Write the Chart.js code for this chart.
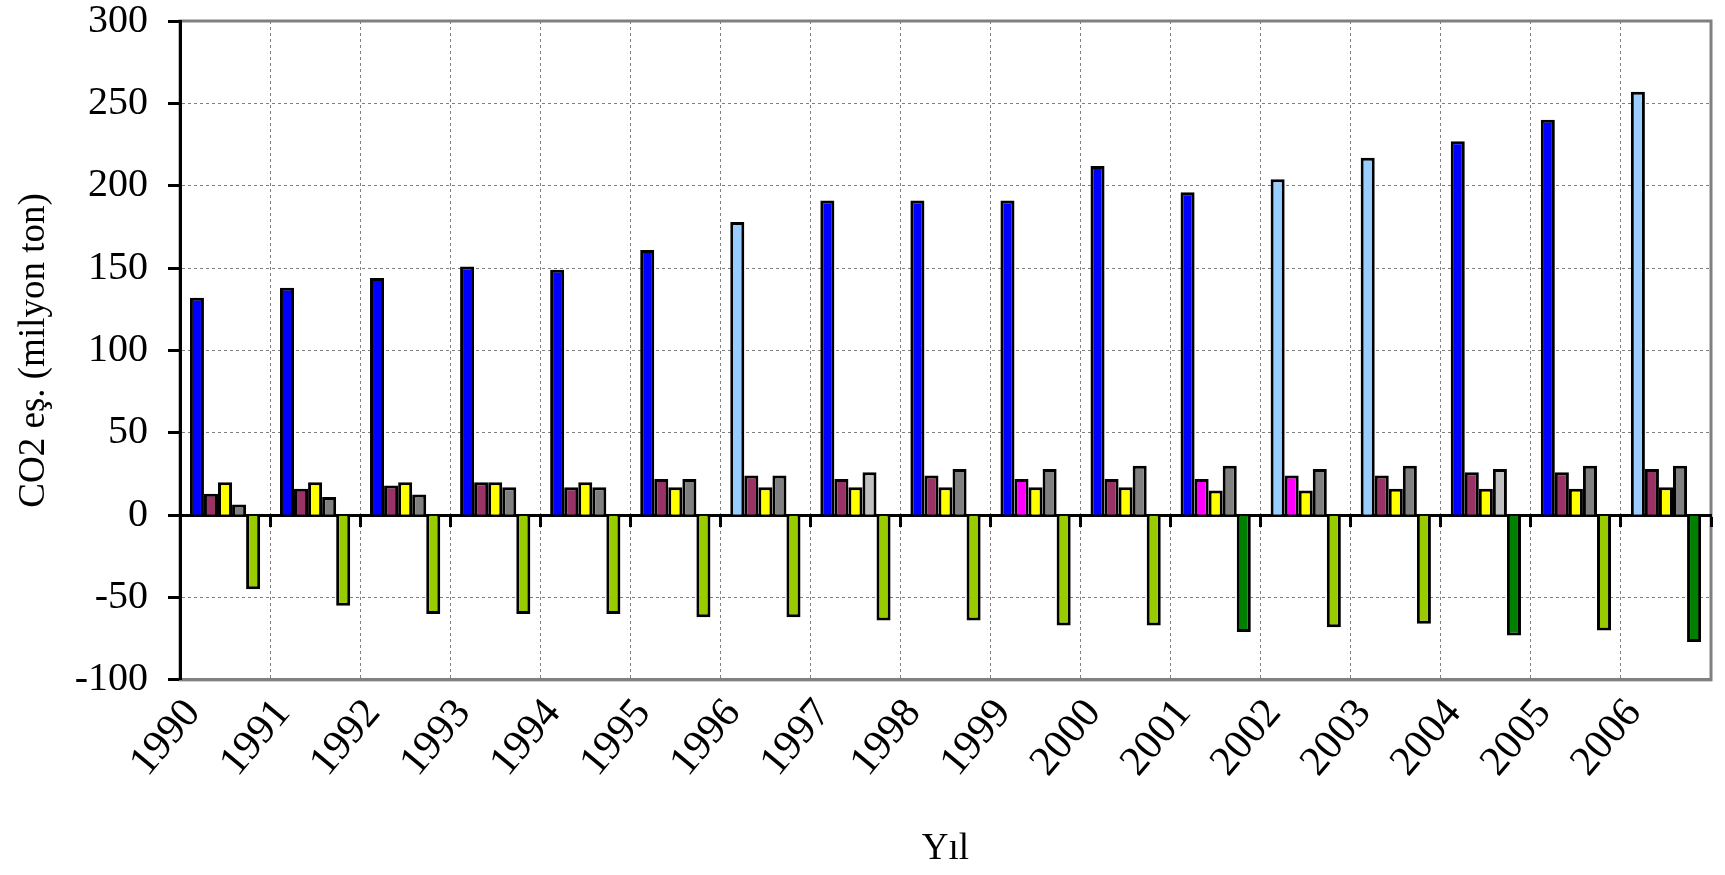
<!DOCTYPE html>
<html>
<head>
<meta charset="utf-8">
<script src="https://cdn.jsdelivr.net/npm/chart.js@4.4.1/dist/chart.umd.min.js"></script>
<style>
  html, body { margin: 0; padding: 0; background: #fff; }
  #wrap { width: 1725px; height: 875px; }
</style>
</head>
<body>
<div id="wrap"><canvas id="co2Chart"></canvas></div>
<script>
const years = ['1990', '1991', '1992', '1993', '1994', '1995', '1996', '1997', '1998',
  '1999', '2000', '2001', '2002', '2003', '2004', '2005', '2006'];

const energy = [132, 138, 144, 151, 149, 161, 178, 191, 191, 191, 212, 196, 204, 217, 227, 240, 257];
const industry = [13, 16, 18, 20, 17, 22, 24, 22, 24, 22, 22, 22, 24, 24, 26, 26, 28];
const agriculture = [20, 20, 20, 20, 20, 17, 17, 17, 17, 17, 17, 15, 15, 16, 16, 16, 17];
const waste = [6.5, 11, 12.5, 17, 17, 22, 24, 26, 28, 28, 30, 30, 28, 30, 28, 30, 30];
const lulucf = [-45, -55, -60, -60, -60, -62, -62, -64, -64, -67, -67, -71, -68, -66, -73, -70, -77];

const yTicks = [300, 250, 200, 150, 100, 50, 0, -50, -100];

// years where the original sheet had a different fill on a single bar
const energyAlt = ['1996', '2002', '2003', '2006'];
const industryAlt = ['1999', '2001', '2002'];
const wasteAlt = ['1997', '2004'];
const lulucfAlt = ['2001', '2004', '2006'];

function fills(base, alt, altYears) {
  return years.map(y => altYears.includes(y) ? alt : base);
}

const serif = 'Liberation Serif';

// gray frame round the plot area
const plotFrame = {
  id: 'plotFrame',
  beforeDraw(chart) {
    const { ctx, chartArea: a } = chart;
    ctx.save();
    ctx.strokeStyle = '#808080';
    ctx.lineWidth = 3;
    ctx.strokeRect(a.left, a.top, a.width, a.height);
    ctx.restore();
  }
};

function bars(label, data, colors) {
  return {
    label: label,
    data: data,
    xAxisID: 'x',
    backgroundColor: colors,
    borderColor: '#000000',
    borderWidth: 3,
    categoryPercentage: 0.78,
    barPercentage: 1.0
  };
}

new Chart(document.getElementById('co2Chart'), {
  type: 'bar',
  data: {
    labels: years,
    datasets: [
      bars('Enerji', energy, fills('#0000FF', '#99CCFF', energyAlt)),
      bars('Endüstriyel işlemler', industry, fills('#993366', '#FF00FF', industryAlt)),
      bars('Tarım', agriculture, fills('#FFFF00', '#FFFF00', [])),
      bars('Atık', waste, fills('#808080', '#C0C0C0', wasteAlt)),
      bars('AKAKDO', lulucf, fills('#99CC00', '#008000', lulucfAlt))
    ]
  },
  options: {
    responsive: true,
    maintainAspectRatio: false,
    animation: false,
    layout: { padding: { top: 21, right: 14, bottom: 4, left: 0 } },
    plugins: {
      legend: { display: false },
      tooltip: { enabled: false }
    },
    scales: {
      x: {
        type: 'category',
        position: 'bottom',
        offset: true,
        grid: { color: '#808080', lineWidth: 1, offset: true, drawTicks: false },
        border: { color: '#808080', width: 3, dash: [3, 3] },
        ticks: {
          color: '#000',
          font: { family: serif, size: 42 },
          minRotation: 50,
          maxRotation: 50,
          padding: 10,
          labelOffset: -32,
          autoSkip: false
        },
        title: {
          display: true,
          text: 'Yıl',
          color: '#000',
          font: { family: serif, size: 37 },
          padding: { top: 30, bottom: 0 }
        }
      },
      x2: {
        type: 'category',
        labels: years,
        position: { y: 0 },
        offset: true,
        z: 1,
        grid: {
          display: true,
          offset: true,
          drawOnChartArea: false,
          drawTicks: true,
          tickLength: 10,
          tickColor: '#000',
          tickWidth: 3
        },
        border: { color: '#000', width: 3 },
        ticks: { display: false }
      },
      y: {
        min: -100,
        max: 300,
        afterFit(scale) {
          scale.width = 180;
          scale.paddingTop = 0;
          scale.paddingBottom = 0;
        },
        afterBuildTicks(scale) { scale.ticks = yTicks.map(v => ({ value: v })); },
        grid: {
          color: '#808080',
          lineWidth: 1,
          tickLength: 12,
          tickColor: '#000',
          tickWidth: 3
        },
        border: { color: '#000', width: 3, dash: [3, 3] },
        ticks: {
          color: '#000',
          font: { family: serif, size: 40, lineHeight: 1.1 },
          padding: 20
        },
        title: {
          display: true,
          text: 'CO2 eş. (milyon ton)',
          color: '#000',
          font: { family: serif, size: 37 },
          padding: { top: 12, bottom: 0 }
        }
      }
    }
  },
  plugins: [plotFrame]
});
</script>
</body>
</html>
